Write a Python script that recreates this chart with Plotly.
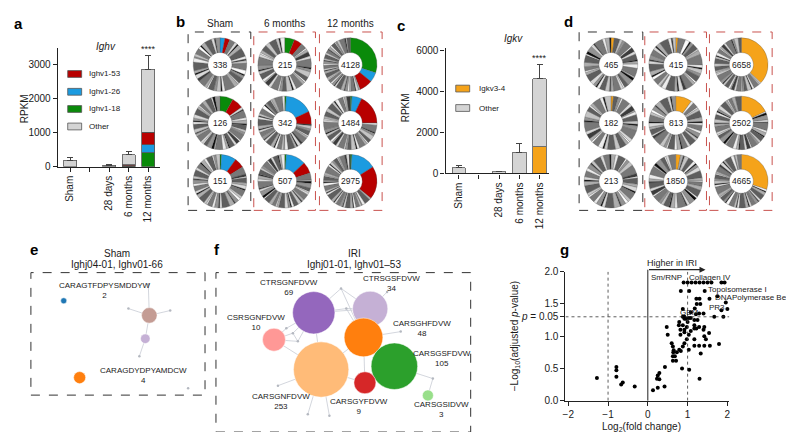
import plotly.graph_objects as go
import math

W, H = 794, 432
FONT = "Liberation Sans, Arial, Helvetica, sans-serif"
INK = "#1a1a1a"

# ---------------- Data ----------------
time_labels = ["Sham", "", "28 days", "6 months", "12 months"]

# panel a (Ighv, RPKM)
ighv_1_18 = [None, None, None, 15, 409]
ighv_1_26 = [None, None, None, 15, 240]
ighv_1_53 = [None, None, None, 20, 360]
ighv_other = [190, None, 40, 300, 1857]
ighv_1_18_err = [0, 0, 0, 0, 100]
ighv_1_26_err = [0, 0, 0, 0, 170]
ighv_1_53_err = [0, 0, 0, 0, 140]
ighv_other_err = [90, 0, 15, 90, 400]

# panel c (Igkv, RPKM)
igkv3_4 = [None, None, None, None, 1297]
igkv_other = [270, None, 80, 1031, 3325]
igkv3_4_err = [0, 0, 0, 0, 523]
igkv_other_err = [110, 0, 20, 456, 684]

# panel b donuts: columns Sham, 6 months, 12 months ; rows 1..3 (percent of ring)
ighv_headers = ["Sham", "6 months", "12 months"]
ighv_totals = [[338, 126, 151], [215, 342, 507], [4128, 1484, 2975]]
ighv_green = [[0, 8, 1], [6, 1, 1], [30, 1, 1]]
ighv_blue = [[3, 0, 9], [0, 17, 12], [6, 6, 15]]
ighv_red = [[3, 7, 6], [5, 8, 7], [8, 18, 20]]

# panel d donuts
igkv_totals = [[465, 182, 213], [415, 813, 1850], [6658, 2502, 4665]]
igkv_orange = [[2, 1.5, 0], [1.5, 10, 3], [37, 18, 30]]

# gray clone slices (relative widths and shade index)
GRAY_W = [
    [4, 2, 1, 3, 6, 2, 1, 2, 5, 3, 1, 2, 4, 1, 3, 7, 2, 1, 3, 2, 4, 1, 2, 5, 2, 3, 1, 2, 6, 3, 1, 2, 4, 2, 1, 3, 5, 2, 1, 3],
    [3, 5, 1, 2, 4, 2, 1, 6, 2, 3, 1, 4, 2, 2, 5, 1, 3, 2, 4, 1, 2, 3, 6, 1, 2, 4, 3, 1, 2, 5, 2, 1, 3, 4, 2, 1, 2, 3, 5, 2, 1, 3],
    [2, 4, 1, 3, 2, 5, 1, 2, 3, 6, 2, 1, 4, 2, 3, 1, 5, 2, 2, 3, 1, 4, 6, 2, 1, 3, 2, 4, 1, 2, 5, 3, 1, 2, 4, 2, 3, 1, 2, 5],
    [5, 2, 1, 3, 4, 1, 2, 3, 2, 6, 1, 2, 4, 3, 1, 2, 5, 2, 1, 4, 3, 2, 1, 5, 2, 3, 1, 2, 4, 2, 1, 3, 6, 2, 1, 2, 4, 3],
]
GRAY_S = [
    [3, 7, 0, 5, 2, 8, 1, 6, 3, 9, 0, 4, 2, 7, 5, 3, 8, 0, 6, 4, 2, 9, 5, 3, 1, 7, 0, 5, 2, 8, 4, 6, 3, 9, 0, 5, 2, 7, 1, 4],
    [5, 2, 9, 0, 4, 7, 1, 3, 8, 5, 0, 2, 6, 4, 3, 9, 1, 7, 2, 0, 5, 8, 3, 6, 0, 4, 2, 9, 7, 3, 5, 1, 6, 2, 8, 0, 4, 7, 2, 5, 9, 3],
    [7, 3, 0, 5, 8, 2, 9, 4, 6, 3, 1, 8, 2, 5, 7, 0, 3, 6, 9, 4, 1, 5, 2, 7, 0, 4, 8, 3, 9, 6, 2, 5, 0, 7, 3, 8, 4, 1, 6, 2],
    [2, 6, 0, 8, 3, 9, 5, 1, 7, 3, 0, 4, 6, 2, 9, 5, 3, 8, 0, 6, 2, 4, 9, 3, 7, 1, 5, 8, 2, 6, 0, 4, 3, 7, 9, 5, 2, 6],
]
ighv_pattern = [[(0, 0), (1, 5), (2, 9)], [(3, 4), (0, 17), (1, 22)], [(2, 13), (3, 8), (0, 27)]]
igkv_pattern = [[(1, 11), (3, 20), (2, 3)], [(0, 8), (2, 26), (1, 30)], [(3, 14), (1, 2), (0, 33)]]

# panel e network (Sham)
e_title = ["Sham", "Ighj04-01, Ighv01-66"]
e_names = ["CARAGTFDPYSMDDYW", "", "", "CARAGDYDPYAMDCW"]
e_counts = [2, 6, 3, 4]
e_node_x = [33, 119, 115, 49]
e_node_y = [29, 44, 68, 108]
e_hub_x = [98, 118, 140, 109, 158]
e_hub_y = [37, 12, 39, 86, 119]
e_edges = [("n1", "h0"), ("n1", "h1"), ("n1", "h2"), ("n1", "n2"), ("n2", "h3")]
e_label_x = [74, None, None, 113]
e_label_y = [18, None, None, 106]

# panel f network (IRI)
f_title = ["IRI", "Ighj01-01, Ighv01\u201353"]
f_names = ["CTRSGNFDVW", "CTRSGSFDVW", "CSRSGNFDVW", "CARSGHFDVW",
           "CARSGNFDVW", "CARSGSFDVW", "CARSGYFDVW", "CARSGSIDVW"]
f_counts = [69, 34, 10, 48, 253, 105, 9, 3]
f_node_x = [98.3, 155, 58.3, 148.3, 105.7, 179.3, 149.7, 213]
f_node_y = [41.3, 37.3, 69, 66.7, 99.7, 96.3, 113.3, 126.3]
f_hub_x = [125.7, 172, 185.7, 218, 62.3, 92.3, 114, 77.3, 82.3, 70.7, 131]
f_hub_y = [16.3, 20, 60.7, 109, 116.3, 145.7, 147.3, 62.3, 70.7, 57.3, 37]
f_edges = [("n0", "h0"), ("h0", "n1"), ("h0", "n3"), ("n0", "n1"), ("n0", "h10"), ("h10", "n1"),
           ("h10", "n3"), ("n0", "n4"), ("n2", "h7"), ("h7", "n0"), ("h8", "n0"), ("n2", "h8"),
           ("h9", "n0"), ("n2", "h9"), ("h7", "h8"), ("n2", "n4"), ("n1", "n3"), ("n3", "n5"),
           ("n3", "n4"), ("n3", "n6"), ("n4", "n6"), ("n4", "h4"), ("n4", "h5"), ("n4", "h6"),
           ("n5", "h3"), ("h3", "n7"), ("n3", "h2"), ("n1", "h1"), ("n5", "n6")]
f_label_x = [73.3, 176.7, 40, 206.7, 65.7, 227, 144, 227]
f_label_y = [15, 10.7, 51.7, 57.3, 133, 88, 137.3, 141]
f_colors = ["#9467bd", "#c5b0d5", "#ff9896", "#ff7f0e", "#ffbb78", "#2ca02c", "#d62728", "#98df8a"]
e_colors = ["#1f77b4", "#c49c94", "#c5b0d5", "#ff7f0e"]

# panel g volcano
g_x = [0.9, 1.0, 1.1, 1.2, 1.3, 1.4, 1.5, 1.6, 1.85, 1.93,
       0.83, 1.04, 1.43, 1.75, 1.22, 1.3, 1.55, 1.96, 1.23, 1.32,
       1.18, 0.88, 1.85, 2.0, 1.08, 1.29, 1.4, 1.21, 1.67, 1.9, 0.88, 0.92,
       1.03, 1.08, 0.92, 0.96, 1.17, 1.25, 0.79, 1.0, 0.78, 0.88, 1.17,
       0.475, 0.98, 1.29, 1.42, 1.17, 1.22, 0.82, 0.92, 1.08, 1.4, 1.54, 0.92,
       0.5, 0.82, 1.03, 1.42, 1.17, 1.46, 0.98, 0.6, 0.92, 1.79,
       1.17, 1.29, 1.42, 1.56, 0.63, 0.88, 0.79, 1.03, 0.65, 0.83, 0.64, 0.73,
       1.33, 0.63, 0.68, 0.63, 0.71, 0.43, 0.86, 1.04, 0.29, 0.25, 0.23, 0.29, 1.3,
       0.42, 0.25, 0.13, -1.28, -0.79, -0.79, -0.79, -0.63, -0.67, -0.33]
g_y = [1.83, 1.83, 1.83, 1.83, 1.83, 1.83, 1.83, 1.83, 1.83, 1.83,
       1.70, 1.70, 1.70, 1.62, 1.58, 1.58, 1.58, 1.52, 1.50, 1.50,
       1.43, 1.42, 1.40, 1.42, 1.37, 1.35, 1.35, 1.34, 1.30, 1.30, 1.30, 1.30,
       1.28, 1.28, 1.27, 1.27, 1.25, 1.25, 1.22, 1.22, 1.17, 1.17, 1.17,
       1.14, 1.14, 1.14, 1.14, 1.12, 1.12, 1.10, 1.10, 1.08, 1.10, 1.05, 1.06,
       1.02, 1.02, 1.02, 1.0, 0.95, 0.95, 0.95, 0.89, 0.89, 0.88,
       0.85, 0.85, 0.85, 0.85, 0.84, 0.84, 0.79, 0.79, 0.78, 0.77, 0.75, 0.75,
       0.73, 0.69, 0.69, 0.62, 0.62, 0.52, 0.50, 0.48, 0.43, 0.39, 0.34, 0.33, 0.34,
       0.22, 0.20, 0.16, 0.35, 0.52, 0.47, 0.37, 0.28, 0.25, 0.22]
g_labels = ["Sm/RNP", "Collagen IV", "Topoisomerase I", "DNAPolymerase Beta", "PR3", "GBM"]
g_label_x = [0.475, 1.575, 1.475, 1.64, 1.74, 1.06]
g_label_y = [1.905, 1.905, 1.72, 1.595, 1.45, 1.36]
g_label_anchor = ["center", "center", "left", "left", "center", "center"]

# ---------------- Styling ----------------
C_RED, C_BLUE, C_GREEN, C_OTHER, C_ORANGE = "#b80000", "#1b9be0", "#0a8a0a", "#d4d4d4", "#f5a31a"
SHADES = ["#0d0d0d", "#3c3c3c", "#5e5e5e", "#787878", "#939393", "#adadad",
          "#c4c4c4", "#d9d9d9", "#ececec", "#fafafa"]

fig = go.Figure()


def px(x):
    return x / W


def py(y):
    return 1 - y / H


annotations = []
shapes = []


def text(x, y, t, size=10, anchor="center", vanchor="middle", angle=0, color=INK, ref=("paper", "paper")):
    annotations.append(dict(x=x, y=y, xref=ref[0], yref=ref[1], text=t, showarrow=False,
                            xanchor=anchor, yanchor=vanchor, textangle=angle,
                            font=dict(family=FONT, size=size, color=color)))


def err(arr):
    return dict(type="data", array=arr, arrayminus=[0] * len(arr), symmetric=False,
                color="#444", thickness=1, width=3)


xs = list(range(len(time_labels)))
bar_line = dict(color="#555", width=0.8)
for vals, errs, col in [(ighv_1_18, ighv_1_18_err, C_GREEN), (ighv_1_26, ighv_1_26_err, C_BLUE),
                        (ighv_1_53, ighv_1_53_err, C_RED), (ighv_other, ighv_other_err, C_OTHER)]:
    fig.add_trace(go.Bar(x=xs, y=vals, xaxis="x", yaxis="y", width=0.66, marker=dict(color=col, line=bar_line),
                         error_y=err(errs), showlegend=False, hoverinfo="skip"))
for vals, errs, col in [(igkv3_4, igkv3_4_err, C_ORANGE), (igkv_other, igkv_other_err, C_OTHER)]:
    fig.add_trace(go.Bar(x=xs, y=vals, xaxis="x2", yaxis="y2", width=0.66, marker=dict(color=col, line=bar_line),
                         error_y=err(errs), showlegend=False, hoverinfo="skip"))

# donuts
R = 27.5
ROWS_Y = [52, 112, 172]
B_COLS_X = [210, 275, 341]
D_COLS_X = [603, 668, 734]


def donut(cx, cy, colored, pat, off, total):
    vals, cols = [], []
    for frac, c in colored:
        if frac > 0:
            vals.append(frac)
            cols.append(c)
    rest = 100 - sum(vals)
    w = GRAY_W[pat][off:] + GRAY_W[pat][:off]
    s = GRAY_S[pat][off:] + GRAY_S[pat][:off]
    tw = sum(w)
    for wi, si in zip(w, s):
        vals.append(rest * wi / tw)
        cols.append(SHADES[si])
    fig.add_trace(go.Pie(values=vals, marker=dict(colors=cols, line=dict(color="#4a4a4a", width=0.3)),
                         hole=0.45, sort=False, direction="clockwise", rotation=0, textinfo="none",
                         hoverinfo="skip", showlegend=False,
                         domain=dict(x=[px(cx - R), px(cx + R)], y=[py(cy + R), py(cy - R)])))
    text(px(cx), py(cy), str(total), size=8.5)


for ci in range(3):
    for ri in range(3):
        pat, off = ighv_pattern[ci][ri]
        donut(B_COLS_X[ci], ROWS_Y[ri],
              [(ighv_green[ci][ri], C_GREEN), (ighv_blue[ci][ri], C_BLUE), (ighv_red[ci][ri], C_RED)],
              pat, off, ighv_totals[ci][ri])
        pat, off = igkv_pattern[ci][ri]
        donut(D_COLS_X[ci], ROWS_Y[ri], [(igkv_orange[ci][ri], C_ORANGE)], pat, off, igkv_totals[ci][ri])
    text(px(B_COLS_X[ci]), py(10), ighv_headers[ci], size=10)

# boxes around donut columns
for (x0, x1), colr in zip([(178, 241), (244, 306), (310, 373), (571, 635), (637, 699), (702, 765)],
                          ["#333", "#c9534f", "#c9534f", "#333", "#c9534f", "#c9534f"]):
    shapes.append(dict(type="rect", xref="paper", yref="paper", x0=px(x0), x1=px(x1), y0=py(202), y1=py(18.5),
                       line=dict(color=colr, width=1, dash="dash")))


# networks
def network(xa, ya, nx, ny, hx, hy, edges, counts, colors, scale):
    def pos(k):
        i = int(k[1:])
        return (nx[i], ny[i]) if k[0] == "n" else (hx[i], hy[i])
    ex, ey = [], []
    for a, b in edges:
        (x0, y0), (x1, y1) = pos(a), pos(b)
        ex += [x0, x1, None]
        ey += [y0, y1, None]
    fig.add_trace(go.Scatter(x=ex, y=ey, xaxis=xa, yaxis=ya, mode="lines",
                             line=dict(color="#c8ccd4", width=0.8), hoverinfo="skip", showlegend=False))
    fig.add_trace(go.Scatter(x=hx, y=hy, xaxis=xa, yaxis=ya, mode="markers",
                             marker=dict(color="#b4b8c0", size=2.5), hoverinfo="skip", showlegend=False,
                             cliponaxis=False))
    fig.add_trace(go.Scatter(x=nx, y=ny, xaxis=xa, yaxis=ya, mode="markers",
                             marker=dict(color=colors, size=[scale * math.log(c) for c in counts],
                                         line=dict(color="white", width=0.5), opacity=1),
                             hoverinfo="skip", showlegend=False, cliponaxis=False))


network("x3", "y3", e_node_x, e_node_y, e_hub_x, e_hub_y, e_edges, e_counts, e_colors, 8.7)
network("x4", "y4", f_node_x, f_node_y, f_hub_x, f_hub_y, f_edges, f_counts, f_colors, 10.0)

for i, nm in enumerate(e_names):
    if nm:
        text(e_label_x[i], e_label_y[i], nm + "<br>" + str(e_counts[i]), size=8, ref=("x3", "y3"))
for i, nm in enumerate(f_names):
    text(f_label_x[i], f_label_y[i], nm + "<br>" + str(f_counts[i]), size=8, ref=("x4", "y4"))

for xa in ["x3", "x4"]:
    shapes.append(dict(type="rect", xref=xa + " domain", yref=xa.replace("x", "y") + " domain",
                       x0=0, x1=1, y0=0, y1=1, line=dict(color="#333", width=1, dash="dash")))

text(px(107), py(246), e_title[0], size=10)
text(px(107), py(258), e_title[1], size=10)
text(px(345), py(246), f_title[0], size=10)
text(px(345), py(258), f_title[1], size=10)

# volcano
fig.add_trace(go.Scatter(x=g_x, y=g_y, xaxis="x5", yaxis="y5", mode="markers",
                         marker=dict(color="black", size=4), hoverinfo="skip", showlegend=False, cliponaxis=False))
for xv in [-1, 1]:
    shapes.append(dict(type="line", xref="x5", yref="y5", x0=xv, x1=xv, y0=0, y1=2.0,
                       line=dict(color="#333", width=0.8, dash="dot")))
shapes.append(dict(type="line", xref="x5", yref="y5", x0=-2.07, x1=2.05, y0=1.3, y1=1.3,
                   line=dict(color="#333", width=0.8, dash="dot")))
# "higher in IRI" bracket: vertical line at x=0 and arrow
shapes.append(dict(type="line", xref="x5", yref="paper", x0=0, x1=0, y0=py(397.7), y1=py(263),
                   line=dict(color="#222", width=1)))
annotations.append(dict(x=1.45, y=py(263), xref="x5", yref="paper", ax=-58, ay=0, axref="pixel",
                        ayref="pixel", text="", showarrow=True, arrowhead=2, arrowsize=1, arrowwidth=1.2,
                        arrowcolor="#222", standoff=0, startstandoff=0))
text(px(664), py(256), "Higher in IRI", size=9)
for t, xv, yv, an in zip(g_labels, g_label_x, g_label_y, g_label_anchor):
    text(xv, yv, t, size=8, anchor=an, ref=("x5", "y5"))
text(px(634), py(425), "Log<sub>2</sub>(fold change)", size=10)
text(px(506), py(331), "\u2212Log<sub>10</sub>(adjusted <i>p</i>-value)", size=10, angle=-90)

# legends for a and c
for yc, col, lab in [(61.7, C_RED, "Ighv1-53"), (80, C_BLUE, "Ighv1-26"), (97.7, C_GREEN, "Ighv1-18"),
                     (115.7, C_OTHER, "Other")]:
    shapes.append(dict(type="rect", xref="paper", yref="paper", x0=px(57), x1=px(71), y0=py(yc + 3.5),
                       y1=py(yc - 3.5), fillcolor=col, line=dict(color="#555", width=0.8)))
    text(px(76), py(yc), lab, size=8, anchor="left")
for yc, col, lab in [(76.7, C_ORANGE, "Igkv3-4"), (96.7, C_OTHER, "Other")]:
    shapes.append(dict(type="rect", xref="paper", yref="paper", x0=px(447), x1=px(461), y0=py(yc + 3.5),
                       y1=py(yc - 3.5), fillcolor=col, line=dict(color="#555", width=0.8)))
    text(px(468), py(yc), lab, size=8, anchor="left")

# titles / stars / axis titles for bar panels
text(px(95), py(33), "<i>Ighv</i>", size=10)
text(4, 3266, "****", size=9, vanchor="bottom", ref=("x", "y"))
text(px(505), py(25), "<i>Igkv</i>", size=10)
text(4, 5306, "****", size=9, vanchor="bottom", ref=("x2", "y2"))
text(px(13), py(97), "RPKM", size=10, angle=-90)
text(px(396), py(97), "RPKM", size=10, angle=-90)

# panel letters
for lt, xp, yp in [("a", 8, 10), ("b", 170, 8), ("c", 392, 12), ("d", 560, 8), ("e", 23, 242), ("f", 207, 242),
                   ("g", 556, 242)]:
    text(px(xp), py(yp), "<b>%s</b>" % lt, size=15, color="black")

axis_common = dict(ticks="outside", ticklen=4, tickwidth=1, tickcolor="#222", showline=True, linecolor="#222",
                   linewidth=1.2, showgrid=False, zeroline=False,
                   tickfont=dict(family=FONT, size=10, color=INK))
hidden = dict(visible=False, showgrid=False, zeroline=False)

fig.update_layout(
    width=W, height=H, margin=dict(l=0, r=0, t=0, b=0), paper_bgcolor="white", plot_bgcolor="white",
    barmode="stack", showlegend=False, font=dict(family=FONT, color=INK),
    xaxis=dict(domain=[px(47), px(150)], anchor="y", range=[-0.64, 4.62], tickmode="array", tickvals=xs,
               ticktext=time_labels, tickangle=-90, **axis_common),
    yaxis=dict(domain=[py(157), py(34.5)], anchor="x", range=[0, 3500], tickmode="array",
               tickvals=[0, 1000, 2000, 3000], **axis_common),
    xaxis2=dict(domain=[px(436.7), px(541)], anchor="y2", range=[-0.655, 4.48], tickmode="array", tickvals=xs,
                ticktext=time_labels, tickangle=-90, **axis_common),
    yaxis2=dict(domain=[py(164), py(35)], anchor="x2", range=[0, 6130], tickmode="array",
                tickvals=[0, 2000, 4000, 6000], **axis_common),
    xaxis3=dict(domain=[px(20), px(195)], anchor="y3", range=[0, 175], **hidden),
    yaxis3=dict(domain=[py(392), py(266)], anchor="x3", range=[126, 0], **hidden),
    xaxis4=dict(domain=[px(206), px(462)], anchor="y4", range=[0, 256], **hidden),
    yaxis4=dict(domain=[py(430), py(266)], anchor="x4", range=[164, 0], **hidden),
    xaxis5=dict(domain=[px(557.3), px(722)], anchor="y5", range=[-2.07, 2.05], tickmode="array",
                tickvals=[-2, -1, 0, 1, 2], ticktext=["\u22122", "\u22121", "0", "1", "2"], **axis_common),
    yaxis5=dict(domain=[py(397.7), py(265)], anchor="x5", range=[0, 2.0], tickmode="array",
                tickvals=[0, 0.5, 1.0, 1.3, 1.5, 2.0],
                ticktext=["0.0", "0.5", "1.0", "<i>p</i> = 0.05", "1.5", "2.0"], **axis_common),
    annotations=annotations, shapes=shapes,
)

fig.write_html("out.html")
